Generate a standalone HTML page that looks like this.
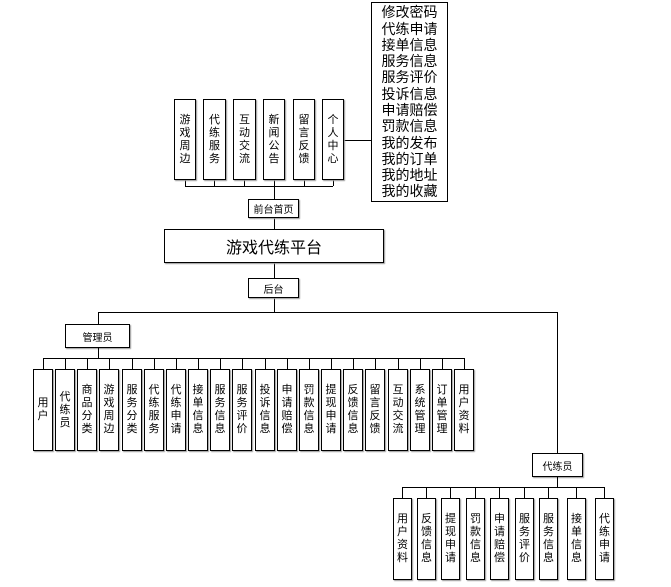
<!DOCTYPE html>
<html><head><meta charset="utf-8"><style>
body{margin:0;width:671px;height:587px;background:#fff;position:relative;overflow:hidden;font-family:"Liberation Sans","Noto Sans CJK SC",sans-serif;color:#000}
.b{position:absolute;border:1px solid #000;box-sizing:border-box;background:#fff;box-shadow:1px 1px 1px #999;display:flex;align-items:center;justify-content:center;text-align:center}
.v{font-size:11px;line-height:13px}
.h{position:absolute;height:1px;background:#000}
.l{position:absolute;width:1px;background:#000}
</style></head><body>
<!-- top connectors -->
<div class="h" style="left:185px;top:186px;width:148px"></div>
<div class="l" style="left:185px;top:180px;height:6px"></div>
<div class="l" style="left:214px;top:180px;height:6px"></div>
<div class="l" style="left:244px;top:180px;height:6px"></div>
<div class="l" style="left:274px;top:180px;height:19px"></div>
<div class="l" style="left:304px;top:180px;height:6px"></div>
<div class="l" style="left:333px;top:180px;height:6px"></div>
<div class="h" style="left:344px;top:140px;width:27px"></div>
<div class="l" style="left:274px;top:218px;height:11px"></div>
<div class="l" style="left:274px;top:263px;height:15px"></div>
<div class="l" style="left:274px;top:298px;height:14px"></div>
<div class="h" style="left:98px;top:312px;width:460px"></div>
<div class="l" style="left:98px;top:312px;height:12px"></div>
<div class="l" style="left:557px;top:312px;height:141px"></div>

<div class="b v" style="left:174px;top:99px;width:22px;height:81px">游<br>戏<br>周<br>边</div>
<div class="b v" style="left:203px;top:99px;width:23px;height:81px">代<br>练<br>服<br>务</div>
<div class="b v" style="left:233px;top:99px;width:23px;height:81px">互<br>动<br>交<br>流</div>
<div class="b v" style="left:263px;top:99px;width:22px;height:81px">新<br>闻<br>公<br>告</div>
<div class="b v" style="left:293px;top:99px;width:22px;height:81px">留<br>言<br>反<br>馈</div>
<div class="b v" style="left:322px;top:99px;width:22px;height:81px">个<br>人<br>中<br>心</div>
<div class="b" style="left:371px;top:2px;width:77px;height:200px;font-size:14px;line-height:16.3px;box-shadow:none">修改密码<br>代练申请<br>接单信息<br>服务信息<br>服务评价<br>投诉信息<br>申请赔偿<br>罚款信息<br>我的发布<br>我的订单<br>我的地址<br>我的收藏</div>
<div class="b" style="left:248px;top:199px;width:51px;height:19px;font-size:10px">前台首页</div>
<div class="b" style="left:164px;top:229px;width:220px;height:34px;font-size:16px">游戏代练平台</div>
<div class="b" style="left:248px;top:278px;width:51px;height:20px;font-size:10px">后台</div>
<div class="b" style="left:65px;top:324px;width:65px;height:24px;font-size:10px">管理员</div>
<div class="l" style="left:98px;top:348px;height:10px"></div>
<div class="h" style="left:43px;top:358px;width:422px"></div>
<div id="adm"></div>
<div class="b" style="left:532px;top:453px;width:51px;height:24px;font-size:10px">代练员</div>
<div class="l" style="left:557px;top:477px;height:10px"></div>
<div class="h" style="left:402px;top:487px;width:203px"></div>
<div id="dl"></div>
<script>
var a=["用户","代练员","商品分类","游戏周边","服务分类","代练服务","代练申请","接单信息","服务信息","服务评价","投诉信息","申请赔偿","罚款信息","提现申请","反馈信息","留言反馈","互动交流","系统管理","订单管理","用户资料"];
var h="";
for(var i=0;i<a.length;i++){var x=Math.round(33+i*22.16);
h+='<div class="l" style="left:'+(x+10)+'px;top:358px;height:11px"></div>';
h+='<div class="b v" style="left:'+x+'px;top:369px;width:20px;height:82px">'+a[i].split("").join("<br>")+'</div>';}
document.getElementById("adm").outerHTML=h;
var d=["用户资料","反馈信息","提现申请","罚款信息","申请赔偿","服务评价","服务信息","接单信息","代练申请"];
var xs=[393,417,441,466,490,515,539,567,595];h="";
for(var i=0;i<d.length;i++){var x=xs[i];
h+='<div class="l" style="left:'+(x+9)+'px;top:487px;height:11px"></div>';
h+='<div class="b v" style="left:'+x+'px;top:498px;width:19px;height:82px">'+d[i].split("").join("<br>")+'</div>';}
document.getElementById("dl").outerHTML=h;
</script>
</body></html>
